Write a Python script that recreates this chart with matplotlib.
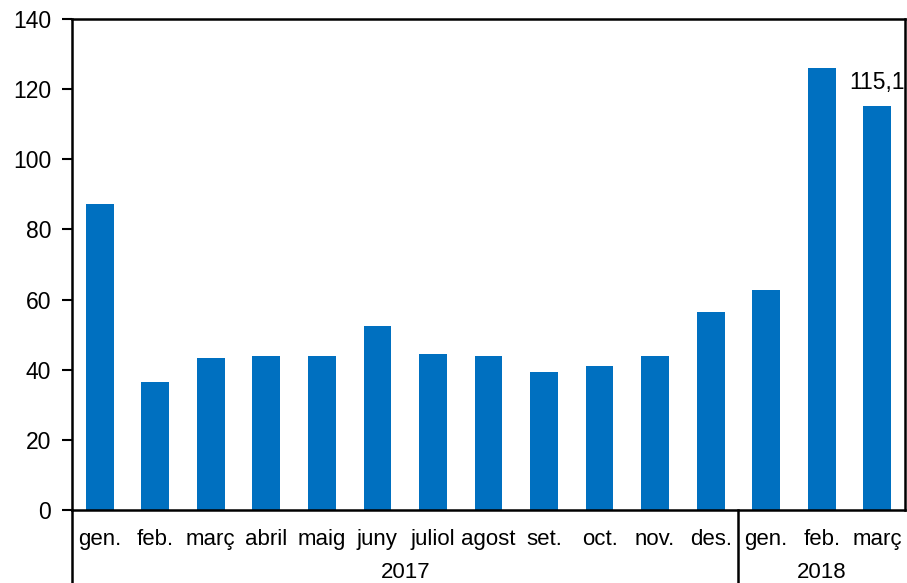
import numpy as np
import matplotlib.pyplot as plt
from matplotlib.lines import Line2D

plt.rcParams["font.family"] = ["Liberation Sans", "DejaVu Sans"]

# ---- data ----
months = ["gen.", "feb.", "març", "abril", "maig", "juny", "juliol", "agost",
          "set.", "oct.", "nov.", "des.", "gen.", "feb.", "març"]
values = [87.2, 36.5, 43.3, 43.9, 43.9, 52.5, 44.5, 43.9,
          39.3, 41.1, 43.9, 56.5, 62.7, 126.0, 115.1]
years = ["2017", "2018"]
year_counts = [12, 3]
last_label = "115,1"

fig = plt.figure(figsize=(9.07, 5.83), dpi=100)
ax = fig.add_axes([72 / 907, 73 / 583, 833 / 907, 491 / 583])

x = np.arange(len(months))
ax.bar(x, values, width=0.5, color="#0070C0", zorder=2)

ax.set_xlim(-0.5, len(months) - 0.5)
ax.set_ylim(0, 140)
ax.set_yticks(np.arange(0, 141, 20))
ax.tick_params(axis="y", direction="out", length=7, width=1.5, labelsize=16.5, pad=8)
ax.set_xticks(x)
ax.set_xticklabels(months)
ax.tick_params(axis="x", length=0, labelsize=16, pad=14)
for s in ax.spines.values():
    s.set_linewidth(1.8)

# value label on the last bar (clipped by the frame as in the original)
ax.text(x[-1], values[-1] + 3.5, last_label, ha="center", va="bottom",
        fontsize=16.5, clip_on=True)

# year group labels and separators below the axis
depth = 73 / 491
start = 0
edges = [-0.5]
for yr, n in zip(years, year_counts):
    mid = start + (n - 1) / 2
    ax.text(mid, -0.128, yr, transform=ax.get_xaxis_transform(),
            ha="center", va="center", fontsize=16)
    start += n
    edges.append(start - 0.5)
for e in edges[:-1]:
    ax.add_line(Line2D([e, e], [0, -depth], transform=ax.get_xaxis_transform(),
                       color="black", lw=1.8, clip_on=False))

fig.savefig("out.png", dpi=100)
